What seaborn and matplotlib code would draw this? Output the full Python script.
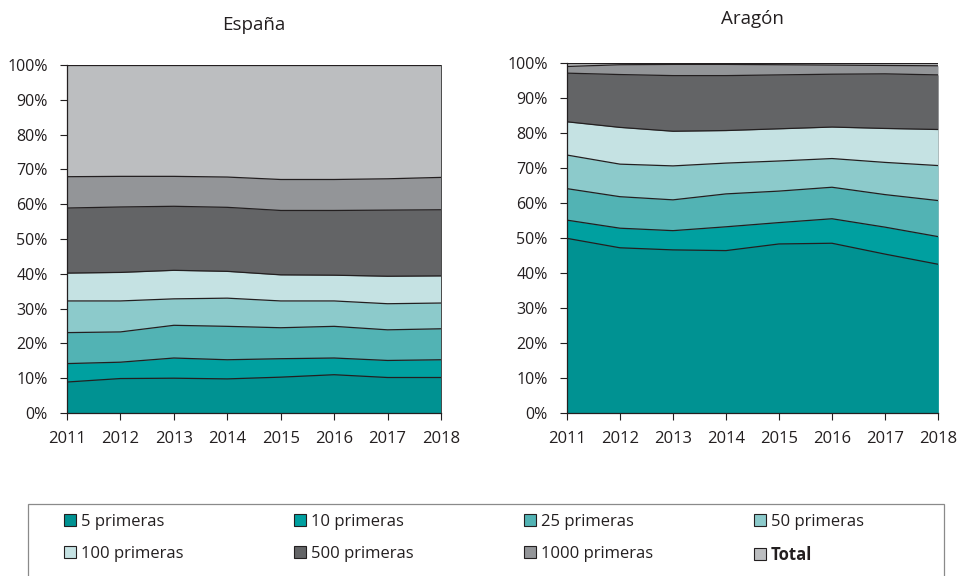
import matplotlib
matplotlib.use("Agg")
import matplotlib.pyplot as plt
import matplotlib.ticker as mticker
from matplotlib.patches import Patch, Rectangle
import numpy as np
import pandas as pd
import seaborn as sns

# Datos (cuota acumulada, %)
years = [2011, 2012, 2013, 2014, 2015, 2016, 2017, 2018]
series = ["5 primeras", "10 primeras", "25 primeras", "50 primeras",
          "100 primeras", "500 primeras", "1000 primeras", "Total"]

espana_5 = [8.9, 9.9, 10.0, 9.8, 10.3, 11.0, 10.2, 10.2]
espana_10 = [14.2, 14.6, 15.8, 15.3, 15.6, 15.8, 15.1, 15.3]
espana_25 = [23.1, 23.3, 25.2, 24.9, 24.5, 24.9, 23.9, 24.2]
espana_50 = [32.2, 32.2, 32.8, 33.0, 32.2, 32.2, 31.4, 31.6]
espana_100 = [40.2, 40.4, 41.0, 40.7, 39.7, 39.6, 39.3, 39.4]
espana_500 = [58.9, 59.2, 59.4, 59.1, 58.2, 58.2, 58.3, 58.4]
espana_1000 = [67.9, 68.0, 68.0, 67.8, 67.1, 67.1, 67.3, 67.7]
espana_total = [100, 100, 100, 100, 100, 100, 100, 100]

aragon_5 = [49.9, 47.2, 46.6, 46.4, 48.3, 48.5, 45.4, 42.5]
aragon_10 = [55.1, 52.8, 52.1, 53.2, 54.4, 55.5, 53.1, 50.4]
aragon_25 = [64.1, 61.8, 60.9, 62.6, 63.4, 64.5, 62.4, 60.7]
aragon_50 = [73.7, 71.1, 70.6, 71.4, 72.0, 72.7, 71.6, 70.7]
aragon_100 = [83.2, 81.6, 80.5, 80.7, 81.2, 81.7, 81.3, 81.0]
aragon_500 = [97.1, 96.7, 96.4, 96.4, 96.6, 96.8, 96.9, 96.6]
aragon_1000 = [99.0, 99.5, 99.6, 99.6, 99.5, 99.4, 99.3, 99.2]
aragon_total = [100, 100, 100, 100, 100, 100, 100, 100]

colores = ["#009292", "#00a0a0", "#52b3b4", "#8ccacb",
           "#c5e2e3", "#636466", "#939598", "#bcbec0"]

espana = [espana_5, espana_10, espana_25, espana_50,
          espana_100, espana_500, espana_1000, espana_total]
aragon = [aragon_5, aragon_10, aragon_25, aragon_50,
          aragon_100, aragon_500, aragon_1000, aragon_total]

sns.set_style("white")
plt.rcParams['font.family'] = ['Open Sans', 'DejaVu Sans']
plt.rcParams['text.color'] = '#231f20'

W, H = 957, 576
fig = plt.figure(figsize=(W / 100, H / 100), dpi=100)
ax1 = fig.add_axes([67 / W, 1 - 413 / H, 374 / W, 348 / H])
ax2 = fig.add_axes([567 / W, 1 - 413 / H, 371 / W, 350 / H])


def dibujar(ax, datos, titulo, titulo_y, borde_dcho):
    df = pd.DataFrame({s: v for s, v in zip(series, datos)})
    df["year"] = years
    # de mayor a menor para que las áreas queden superpuestas
    for s, c in reversed(list(zip(series, colores))):
        ax.fill_between(df["year"], 0, df[s] / 100, color=c, linewidth=0)
        sns.lineplot(x=df["year"], y=df[s] / 100, ax=ax, color="#231f20",
                     linewidth=0.9)
    ax.set_xlim(2011, 2018)
    ax.set_ylim(0, 1)
    ax.set_xticks(years)
    ax.set_yticks(np.arange(0, 1.01, 0.1))
    ax.yaxis.set_major_formatter(mticker.PercentFormatter(1.0, decimals=0))
    ax.set_xlabel("")
    ax.set_ylabel("")
    ax.spines["top"].set_visible(False)
    ax.spines["right"].set_visible(borde_dcho)
    ax.spines["right"].set_color("#4a4a4a")
    ax.spines["right"].set_linewidth(0.7)
    for sp in ["left", "bottom"]:
        ax.spines[sp].set_color("#231f20")
        ax.spines[sp].set_linewidth(0.9)
    ax.tick_params(axis="both", direction="out", length=5, width=0.8,
                   color="#231f20", labelcolor="#231f20",
                   left=True, bottom=True)
    ax.tick_params(axis="y", labelsize=11.5, pad=9)
    ax.tick_params(axis="x", labelsize=12, pad=8)
    ax.text(0.5, titulo_y, titulo, transform=ax.transAxes, ha="center",
            va="center", fontsize=13.5, color="#231f20")


dibujar(ax1, espana, "España", 1.115, True)
dibujar(ax2, aragon, "Aragón", 1.126, False)

# recuadro de la leyenda
fig.patches.append(Rectangle((28 / W, -0.01), 916 / W, 1 - 504 / H + 0.01,
                             transform=fig.transFigure, facecolor="none",
                             edgecolor="#8a8a8a", linewidth=0.9))

handles = [Patch(facecolor=c, edgecolor="#231f20", linewidth=0.8) for c in colores]
col_x = [64, 294, 524, 754]
for i, x in enumerate(col_x):
    hs = [handles[i], handles[i + 4]]
    ls = [series[i], series[i + 4]]
    leg = fig.legend(hs, ls, loc="upper left", bbox_to_anchor=(x / W, 1 - 514 / H),
                     frameon=False, fontsize=12, handlelength=0.7,
                     handleheight=0.7, handletextpad=0.3, borderpad=0,
                     labelspacing=0.95, borderaxespad=0)
    if i == 3:
        leg.get_texts()[1].set_fontweight("bold")

fig.savefig("out.png", dpi=100)
